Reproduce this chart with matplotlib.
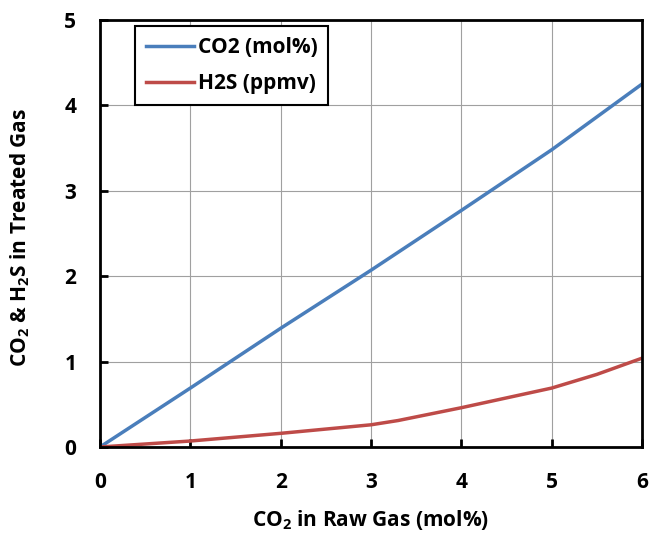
import matplotlib
matplotlib.use("Agg")
import matplotlib.pyplot as plt

# data
co2_raw = [0, 1, 2, 3, 4, 5, 6]
co2_treated = [0, 0.69, 1.39, 2.07, 2.77, 3.48, 4.25]

h2s_raw = [0, 1, 2, 3, 3.3, 4, 5, 5.5, 6]
h2s_treated = [0, 0.07, 0.16, 0.26, 0.31, 0.46, 0.69, 0.85, 1.04]

x_ticks = [0, 1, 2, 3, 4, 5, 6]
y_ticks = [0, 1, 2, 3, 4, 5]

plt.rcParams['font.family'] = ['Open Sans', 'DejaVu Sans']
plt.rcParams['font.weight'] = 'bold'

fig = plt.figure(figsize=(6.51, 5.33), dpi=100)
ax = fig.add_axes([100 / 651, 1 - 447 / 533, 542 / 651, 427 / 533])

ax.plot(co2_raw, co2_treated, color='#4a7ebb', lw=2.5, label='CO2 (mol%)')
ax.plot(h2s_raw, h2s_treated, color='#be4b48', lw=2.5, label='H2S (ppmv)')

ax.set_xlim(0, 6)
ax.set_ylim(0, 5)
ax.set_xticks(x_ticks)
ax.set_yticks(y_ticks)
ax.grid(True, color='#a0a0a0', lw=0.8)
ax.set_axisbelow(True)
for s in ax.spines.values():
    s.set_linewidth(2)
    s.set_color('black')
ax.tick_params(direction='in', length=6, width=2, labelsize=15)
ax.tick_params(axis='x', pad=18)
ax.tick_params(axis='y', pad=17)
for lab in ax.get_xticklabels() + ax.get_yticklabels():
    lab.set_fontweight('bold')

ax.set_xlabel('CO$_\\mathregular{2}$ in Raw Gas (mol%)', fontsize=15, fontweight='bold')
ax.set_ylabel('CO$_\\mathregular{2}$ & H$_\\mathregular{2}$S in Treated Gas', fontsize=15, fontweight='bold')
ax.xaxis.set_label_coords(0.5, -0.142)
ax.yaxis.set_label_coords(-0.125, 0.49)

leg = ax.legend(loc='upper left', bbox_to_anchor=(0.065, 0.985), borderaxespad=0,
                fontsize=15, fancybox=False, framealpha=1, edgecolor='black',
                handlelength=2.3, borderpad=0.5, labelspacing=0.75, handletextpad=0.2)
leg.get_frame().set_linewidth(1.5)
for t in leg.get_texts():
    t.set_fontweight('bold')

fig.savefig('out.png', dpi=100)
